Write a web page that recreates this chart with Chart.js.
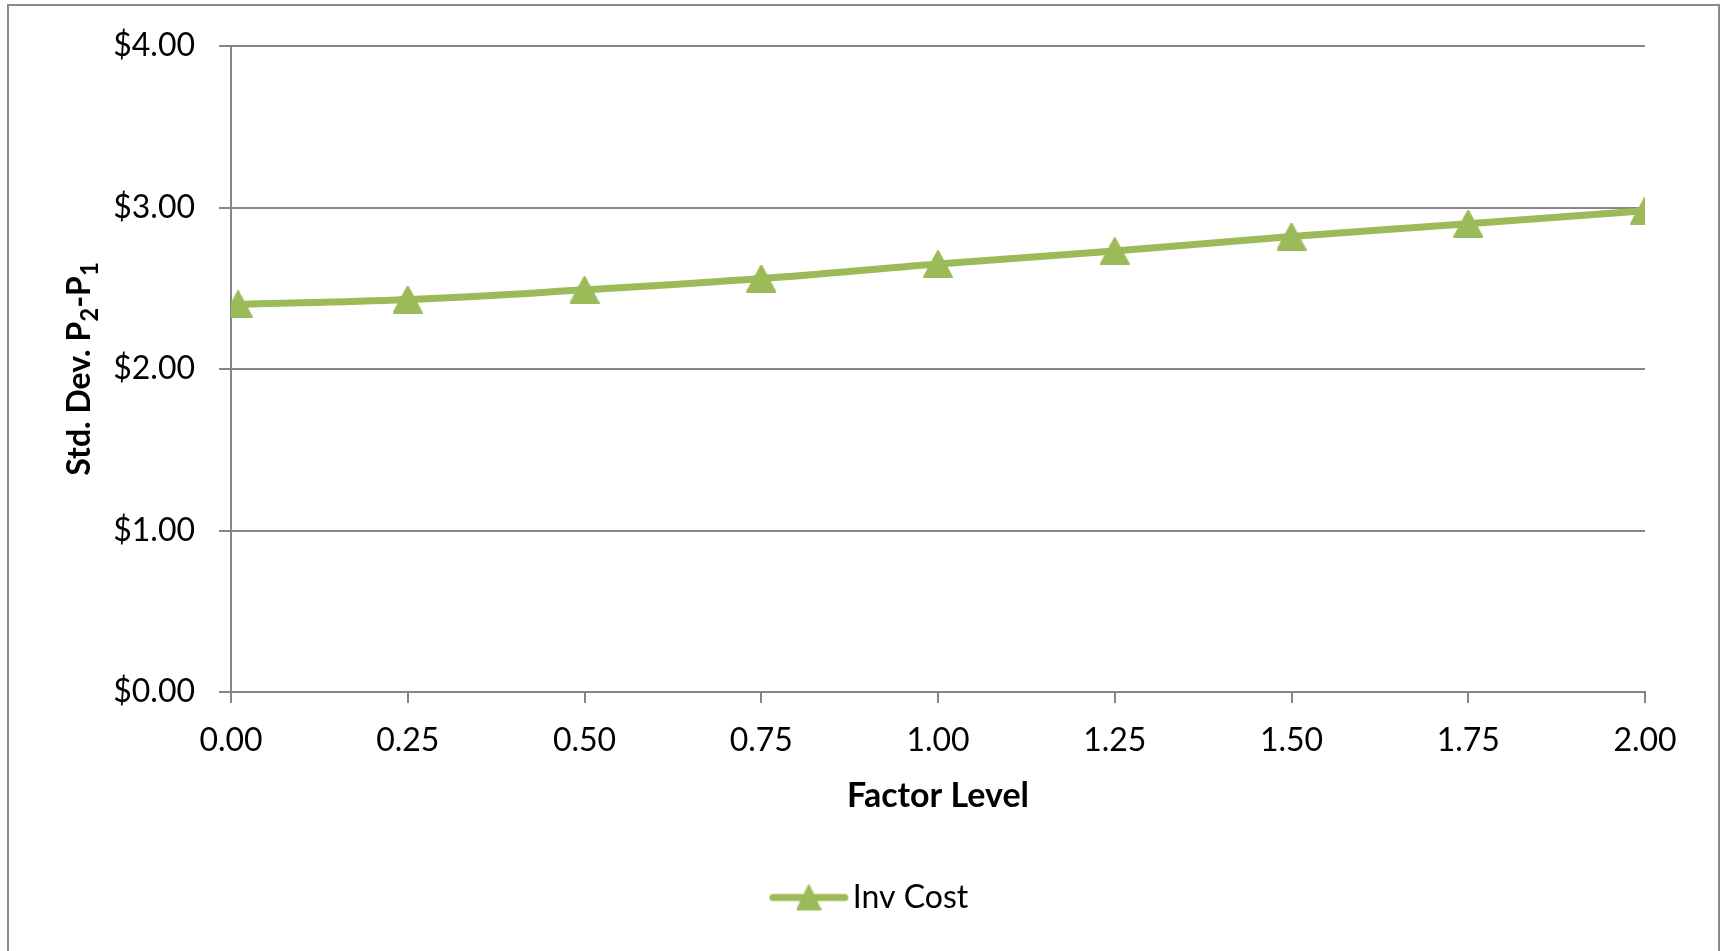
<!DOCTYPE html>
<html>
<head>
<meta charset="utf-8">
<title>Inv Cost</title>
<script src="https://cdn.jsdelivr.net/npm/chart.js@4/dist/chart.umd.min.js"></script>
<style>
  html, body { margin: 0; padding: 0; background: #fff; overflow: hidden; }
  #frame { position: absolute; left: 7px; top: 4px; width: 1713px; height: 1000px; box-sizing: border-box; border: 2px solid #8a8a8a; }
  #wrap { position: absolute; left: 0; top: 0; width: 1723px; height: 951px; }
</style>
</head>
<body>
<div id="frame"></div>
<div id="wrap"><canvas id="chart"></canvas></div>
<script>
// Series data
const factorLevels = [0.01, 0.25, 0.50, 0.75, 1.00, 1.25, 1.50, 1.75, 2.00];
const invCost = [2.40, 2.43, 2.49, 2.56, 2.65, 2.73, 2.82, 2.90, 2.98];

// Axis ticks
const xTickValues = [0, 0.25, 0.5, 0.75, 1, 1.25, 1.5, 1.75, 2];
const yTickValues = [0, 1, 2, 3, 4];

const GREEN = '#9bbb59';
const GRID = '#868686';
const FONT = 'Lato, "DejaVu Sans", sans-serif';

// Triangle marker, centred in its own box
function triangleMarker(w, h) {
  const c = document.createElement('canvas');
  c.width = w; c.height = h;
  const g = c.getContext('2d');
  g.fillStyle = GREEN; g.strokeStyle = GREEN;
  g.lineWidth = 2; g.lineJoin = 'round';
  g.beginPath();
  g.moveTo(w / 2, 1);
  g.lineTo(w - 1, h - 1);
  g.lineTo(1, h - 1);
  g.closePath();
  g.fill(); g.stroke();
  return c;
}

// Legend swatch: line with a triangle in the middle
function legendSwatch() {
  const c = document.createElement('canvas');
  c.width = 80; c.height = 28;
  const g = c.getContext('2d');
  g.strokeStyle = GREEN; g.lineWidth = 7; g.lineCap = 'round';
  g.beginPath(); g.moveTo(4, 14); g.lineTo(76, 14); g.stroke();
  g.drawImage(triangleMarker(25, 26), 27.5, 1);
  return c;
}

const marker = triangleMarker(30, 28);
const swatch = legendSwatch();

// Rotated y-axis title with subscripts
const yTitlePlugin = {
  id: 'yTitle',
  afterDraw(chart) {
    const { ctx, chartArea } = chart;
    const parts = [
      { t: 'Std. Dev. P', sub: false },
      { t: '2', sub: true },
      { t: '-P', sub: false },
      { t: '1', sub: true }
    ];
    const mainFont = 'bold 32px ' + FONT;
    const subFont = 'bold 24px ' + FONT;
    ctx.save();
    let total = 0;
    parts.forEach(p => {
      ctx.font = p.sub ? subFont : mainFont;
      p.w = ctx.measureText(p.t).width;
      total += p.w;
    });
    ctx.translate(chartArea.left - 141, (chartArea.top + chartArea.bottom) / 2);
    ctx.rotate(-Math.PI / 2);
    ctx.fillStyle = '#000';
    ctx.textBaseline = 'alphabetic';
    let x = -total / 2;
    parts.forEach(p => {
      ctx.font = p.sub ? subFont : mainFont;
      ctx.fillText(p.t, x, p.sub ? 8 : 0);
      x += p.w;
    });
    ctx.restore();
  }
};

const ctx = document.getElementById('chart').getContext('2d');
new Chart(ctx, {
  type: 'line',
  data: {
    datasets: [{
      label: 'Inv Cost',
      data: factorLevels.map((x, i) => ({ x: x, y: invCost[i] })),
      borderColor: GREEN,
      backgroundColor: GREEN,
      borderWidth: 7,
      tension: 0.4,
      pointStyle: marker,
      pointRadius: 15,
      fill: false
    }]
  },
  options: {
    responsive: true,
    maintainAspectRatio: false,
    animation: false,
    events: [],
    layout: { padding: { left: 104, right: 78, top: 46, bottom: 27.5 } },
    scales: {
      x: {
        type: 'linear',
        min: 0,
        max: 2,
        afterBuildTicks(scale) { scale.ticks = xTickValues.map(v => ({ value: v })); },
        afterFit(scale) { scale.height = 179.5; },
        ticks: {
          callback: v => v.toFixed(2),
          font: { family: FONT, size: 32 },
          color: '#000',
          padding: 18,
          maxRotation: 0,
          autoSkip: false
        },
        grid: { drawOnChartArea: false, drawTicks: true, tickLength: 11, color: GRID, lineWidth: 2 },
        border: { display: true, color: GRID, width: 2 },
        title: {
          display: true,
          text: 'Factor Level',
          color: '#000',
          font: { family: FONT, size: 34, weight: 'bold' },
          padding: { top: 0, bottom: 55 }
        }
      },
      y: {
        min: 0,
        max: 4,
        afterBuildTicks(scale) { scale.ticks = yTickValues.map(v => ({ value: v })); },
        afterFit(scale) { scale.width = 127; },
        ticks: {
          callback: v => '$' + v.toFixed(2),
          font: { family: FONT, size: 32 },
          color: '#000',
          padding: 24
        },
        grid: { color: GRID, lineWidth: 2, tickLength: 12, drawTicks: true },
        border: { display: true, color: GRID, width: 2 }
      }
    },
    plugins: {
      tooltip: { enabled: false },
      legend: {
        position: 'bottom',
        labels: {
          usePointStyle: true,
          pointStyleWidth: 56,
          padding: 10,
          color: '#000',
          font: { family: FONT, size: 32 },
          generateLabels(chart) {
            const items = Chart.defaults.plugins.legend.labels.generateLabels(chart);
            items.forEach(it => { it.pointStyle = swatch; });
            return items;
          }
        }
      }
    }
  },
  plugins: [yTitlePlugin]
});
</script>
</body>
</html>
